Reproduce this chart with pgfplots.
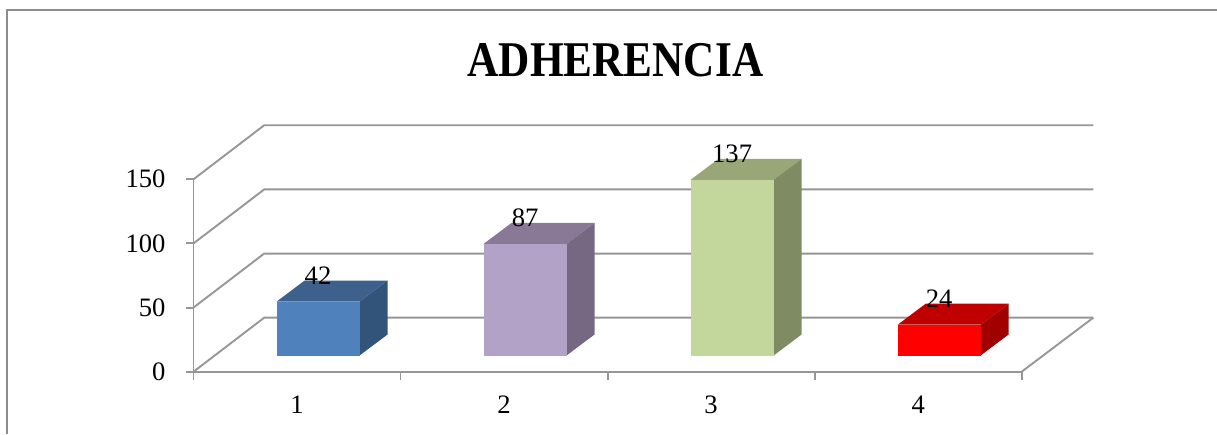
\documentclass[border=0pt]{standalone}
\usepackage{fontspec}
\setmainfont{Liberation Serif}
\usepackage{pgfplots}
\pgfplotsset{compat=1.18}
\definecolor{gridgray}{HTML}{969696}
\definecolor{framegray}{HTML}{8C8C8C}
\begin{document}
\begin{tikzpicture}[x=1pt,y=1pt]
  \useasboundingbox (0,0) rectangle (1217,434);
  % marco
  \draw[framegray,line width=2pt] (6.5,0) -- (6.5,424) -- (1217,424);
  \node[font=\fontsize{50}{50}\selectfont\bfseries] at (615.5,374) {\scalebox{0.865}[1]{ADHERENCIA}};
  \begin{axis}[
    at={(193.5pt,62.3pt)},anchor=south west,
    scale only axis,
    width=899.8pt,height=246.3pt,
    xmin=0.5,xmax=4.846,
    ymin=0,ymax=192,
    clip=false,
    axis line style={draw=none},
    axis x line=bottom,axis y line=left,
    xtick={1,2,3,4},
    minor xtick={0.5,1.5,2.5,3.5,4.5},
    ytick={0,50,100,150},
    tick align=outside,
    major tick length=8pt,minor tick length=8pt,
    tick style={gridgray,line width=1.9pt},
    x tick style={draw=none},
    minor x tick style={draw=gridgray,line width=1.9pt},
    ticklabel style={font=\fontsize{26.6}{26.6}\selectfont},
    /pgf/number format/assume math mode=true,
    xticklabel style={yshift=-13pt},
    yticklabel style={xshift=-16.5pt},
    every axis plot/.append style={forget plot},
    gridline/.style={gridgray,line width=1.9pt},
    face/.style={xshift=21pt,yshift=16.2pt,draw=none},
    frontbar/.style={ybar,bar width=83pt,bar shift=0pt,xshift=21pt,yshift=16.2pt,draw=none,
      nodes near coords,
      every node near coord/.append style={black,anchor=center,yshift=26pt,
        font=\fontsize{26.6}{26.6}\selectfont,/pgf/number format/assume math mode=true}},
  ]
    % paredes: lineas de division
    \addplot[gridline] coordinates {(0.5,0)(0.5,150)};
    \addplot[gridline] coordinates {(0.5,0)(4.5,0)};
    \addplot[gridline] coordinates {(0.5,0)(0.8415,42.1)(4.846,42.1)};
    \addplot[gridline] coordinates {(0.5,50)(0.8415,92.1)(4.846,92.1)};
    \addplot[gridline] coordinates {(0.5,100)(0.8415,142.1)(4.846,142.1)};
    \addplot[gridline] coordinates {(0.5,150)(0.8415,192.1)(4.846,192.1)};
    \addplot[gridline] coordinates {(4.5,0)(4.846,42.1)};

    % caras superiores y laterales
    \addplot[face,fill={rgb,255:red,61;green,96;blue,141}] coordinates {(0.7996,42)(1.2004,42)(1.3356,58.37)(0.9348,58.37)} -- cycle;
    \addplot[face,fill={rgb,255:red,50;green,83;blue,122}] coordinates {(1.2004,0)(1.3356,16.37)(1.3356,58.37)(1.2004,42)} -- cycle;
    \addplot[face,fill={rgb,255:red,137;green,120;blue,150}] coordinates {(1.7996,87)(2.2004,87)(2.3356,103.37)(1.9348,103.37)} -- cycle;
    \addplot[face,fill={rgb,255:red,118;green,104;blue,130}] coordinates {(2.2004,0)(2.3356,16.37)(2.3356,103.37)(2.2004,87)} -- cycle;
    \addplot[face,fill={rgb,255:red,152;green,166;blue,120}] coordinates {(2.7996,137)(3.2004,137)(3.3356,153.37)(2.9348,153.37)} -- cycle;
    \addplot[face,fill={rgb,255:red,127;green,139;blue,98}] coordinates {(3.2004,0)(3.3356,16.37)(3.3356,153.37)(3.2004,137)} -- cycle;
    \addplot[face,fill={rgb,255:red,192;green,0;blue,0}] coordinates {(3.7996,24)(4.2004,24)(4.3356,40.37)(3.9348,40.37)} -- cycle;
    \addplot[face,fill={rgb,255:red,160;green,0;blue,0}] coordinates {(4.2004,0)(4.3356,16.37)(4.3356,40.37)(4.2004,24)} -- cycle;

    % caras frontales con los valores
    \addplot[frontbar,fill={rgb,255:red,79;green,129;blue,189}] coordinates {(1,42)};
    \addplot[frontbar,fill={rgb,255:red,179;green,162;blue,199}] coordinates {(2,87)};
    \addplot[frontbar,fill={rgb,255:red,195;green,214;blue,155}] coordinates {(3,137)};
    \addplot[frontbar,fill={rgb,255:red,255;green,0;blue,0}] coordinates {(4,24)};
  \end{axis}
\end{tikzpicture}
\end{document}
